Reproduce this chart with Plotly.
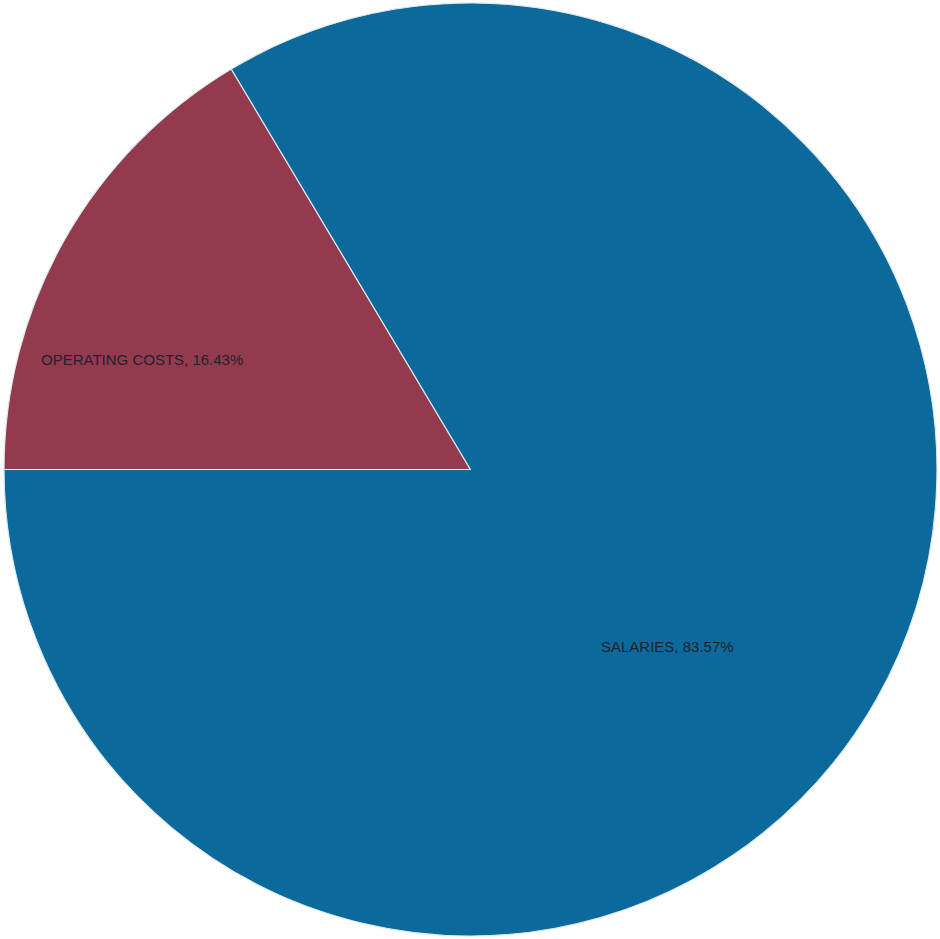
import plotly.graph_objects as go

labels = ["OPERATING COSTS", "SALARIES"]
values = [16.43, 83.57]
colors = ["#943a4f", "#0c699b"]

fig = go.Figure(go.Pie(
    labels=labels,
    values=values,
    sort=False,
    direction="clockwise",
    rotation=270,
    marker=dict(colors=colors, line=dict(color="#dde8ee", width=1.2)),
    textinfo="none",
    hoverinfo="label+percent",
    showlegend=False,
    domain=dict(x=[4/940, 937/940], y=[3/939, 936/939]),
))

label_pos = [(0.042, 0.617, "left"), (0.637, 0.300, "left")]
for (x, y, anchor), lab, v in zip(label_pos, labels, values):
    fig.add_annotation(x=x, y=y, xref="paper", yref="paper", xanchor=anchor,
                       text=f"{lab}, {v:.2f}%", showarrow=False,
                       font=dict(family="Liberation Sans", size=15, color="#22222e"))

fig.update_layout(width=940, height=939, margin=dict(l=0, r=0, t=0, b=0),
                  paper_bgcolor="white", plot_bgcolor="white")
fig.write_html("out.html", config={"displayModeBar": False},
               post_script="document.body.style.margin='0';")
